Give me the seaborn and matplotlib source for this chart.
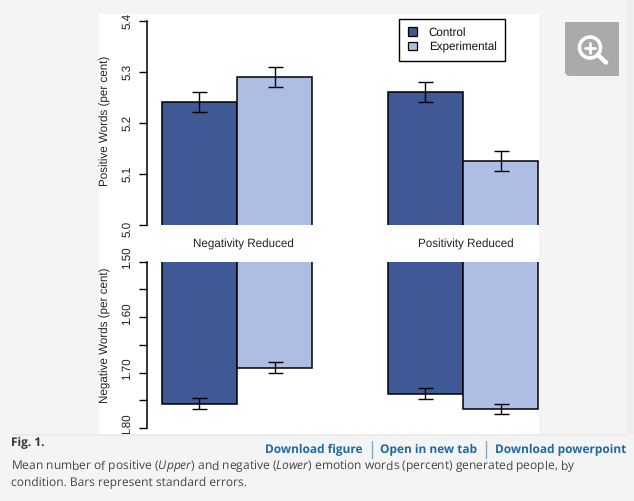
import pandas as pd
import seaborn as sns
import matplotlib.pyplot as plt
from matplotlib.patches import Rectangle, Circle, Patch, FancyBboxPatch
from matplotlib.transforms import ScaledTranslation

W, H = 634, 501

groups = ["Negativity Reduced", "Positivity Reduced"]
conditions = ["Control", "Experimental"]
pos_control = [5.241, 5.261]
pos_experimental = [5.290, 5.125]
pos_se = [0.020, 0.020]
neg_control = [1.756, 1.738]
neg_experimental = [1.691, 1.766]
neg_se = [0.0095, 0.0095]
pos_ticks = [5.0, 5.1, 5.2, 5.3, 5.4]
neg_ticks = [1.50, 1.60, 1.70, 1.80]
neg_minor = [1.55, 1.65, 1.75]
colors = ["#3f5896", "#aebde4"]

sns.set_theme(style="ticks")
plt.rcParams["font.family"] = ["Liberation Sans", "DejaVu Sans"]
plt.rcParams["mathtext.fontset"] = "custom"
plt.rcParams["mathtext.it"] = "Open Sans:italic"
plt.rcParams["mathtext.rm"] = "Open Sans"
plt.rcParams["text.hinting"] = "no_hinting"

fig = plt.figure(figsize=(W / 100, H / 100), dpi=100, facecolor="#f4f4f4")


def pixel_axes(left, top, right, bottom):
    return fig.add_axes([left / W, 1 - bottom / H, (right - left) / W, (bottom - top) / H])


# page behind the figure, in pixels
page = fig.add_axes([0, 0, 1, 1], zorder=0)
page.set_xlim(0, W)
page.set_ylim(H, 0)
page.axis("off")
page.add_patch(Rectangle((627, 0), 7, 434, color="#efefef", lw=0))
page.add_patch(Rectangle((11, 434), 616, 2, color="#ececec", lw=0))
panel = Rectangle((99, 14), 440, 420, color="white", lw=0)
page.add_patch(panel)

# zoom button
page.add_patch(FancyBboxPatch((565, 22), 54, 54, boxstyle="round,pad=0,rounding_size=5",
                              fc="#aaaaaa", ec="none"))
page.add_patch(Rectangle((565, 22), 54, 40, color="#aaaaaa", lw=0))
page.add_patch(Rectangle((590, 22), 29, 54, color="#aaaaaa", lw=0))
page.add_patch(Circle((590, 47.5), 10.5, fc="none", ec="white", lw=2.6))
page.plot([598, 606], [55, 62.5], color="white", lw=3.2, solid_capstyle="round")
page.plot([585, 595], [47.5, 47.5], color="white", lw=2)
page.plot([590, 590], [42.5, 52.5], color="white", lw=2)


def draw_panel(ax, control, experimental, se, ylim):
    df = pd.DataFrame({
        "group": groups * 2,
        "condition": [conditions[0]] * 2 + [conditions[1]] * 2,
        "value": control + experimental,
    })
    sns.barplot(data=df, x="group", y="value", hue="condition", order=groups,
                hue_order=conditions, palette=colors, saturation=1, width=0.664, gap=0,
                edgecolor="black", linewidth=1.1, legend=False, ax=ax)
    ax.set_xlim((147 - 237) / 226, (539 - 237) / 226)
    ax.set_ylim(*ylim)
    # one error bar per bar, same order as seaborn's containers
    for cont, errs in zip(ax.containers, [se, se]):
        for bar, err in zip(cont, errs):
            x = bar.get_x() + bar.get_width() / 2
            ax.errorbar(x, bar.get_height(), yerr=err, color="black", lw=1.0,
                        capsize=5.4, capthick=1.0, clip_on=False, zorder=5)
    ax.patch.set_alpha(0)
    ax.set_xlabel("")
    ax.set_xticks([])
    sns.despine(ax=ax, bottom=True)
    ax.spines["left"].set_linewidth(1.1)
    ax.spines["left"].set_color("black")
    ax.tick_params(axis="y", which="both", length=5.8, width=1.0, color="black", pad=4.5,
                   labelsize=8.4, labelcolor="#222222")


def nudge(label, px):
    # R keeps rotated labels off each other, so some sit off their tick
    label.set_transform(label.get_transform() + ScaledTranslation(0, px / 100, fig.dpi_scale_trans))


top_ax = pixel_axes(147, 21, 539, 225)
draw_panel(top_ax, pos_control, pos_experimental, pos_se, (5.0, 5.4))
top_ax.set_yticks(pos_ticks)
top_ax.set_yticklabels([f"{t:.1f}" for t in pos_ticks], rotation=90, va="center")
top_ax.set_ylabel("")
nudge(top_ax.get_yticklabels()[0], -4)

bot_ax = pixel_axes(147, 261.5, 539, 428)
draw_panel(bot_ax, neg_control, neg_experimental, neg_se, (1.80, 1.50))
bot_ax.set_yticks(neg_ticks)
bot_ax.set_yticks(neg_minor, minor=True)
bot_ax.set_yticklabels([f"{t:.2f}" for t in neg_ticks], rotation=90, va="center")
bot_ax.set_ylabel("")
for lab in bot_ax.get_yticklabels():
    nudge(lab, 3.5)

# tick labels get cut by the white panel edge
for ax in (top_ax, bot_ax):
    for lab in ax.get_yticklabels():
        lab.set_clip_on(True)
        lab.set_clip_box(panel.get_window_extent())

page.text(105.5, 120.5, "Positive Words (per cent)", rotation=90, ha="center", va="center",
          fontsize=8.4, color="#222222")
page.text(105.5, 335.5, "Negative Words (per cent)", rotation=90, ha="center", va="center",
          fontsize=8.4, color="#222222")
page.text(243, 244, groups[0], ha="center", va="center", fontsize=8.4, color="#222222")
page.text(466, 244, groups[1], ha="center", va="center", fontsize=8.4, color="#222222")

handles = [Patch(facecolor=c, edgecolor="black", linewidth=0.9) for c in colors]
leg = top_ax.legend(handles, conditions, loc="upper left",
                    bbox_to_anchor=((399 - 147) / 392, 1 + (21 - 18.5) / 204),
                    fontsize=8.4, frameon=True, fancybox=False, framealpha=1, edgecolor="black",
                    handlelength=0.8, handleheight=0.8, handletextpad=1.0, labelspacing=0.25,
                    borderpad=0.75, borderaxespad=0, labelcolor="#111111")
leg.get_frame().set_linewidth(1.0)
leg.set_zorder(10)

# caption block
sans = ["Open Sans", "DejaVu Sans"]
page.text(11, 443, "Fig. 1.", family=sans, fontsize=8.6, fontweight="bold", color="#333333",
          ha="left", va="center")
link = "#1f6a9c"
page.text(265, 449.5, "Download figure", family=sans, fontsize=8.6, fontweight="bold", color=link,
          ha="left", va="center")
page.text(380, 449.5, "Open in new tab", family=sans, fontsize=8.6, fontweight="bold", color=link,
          ha="left", va="center")
page.text(495, 449.5, "Download powerpoint", family=sans, fontsize=8.6, fontweight="bold", color=link,
          ha="left", va="center")
page.plot([372, 372], [441, 458], color="#8aa8bf", lw=1)
page.plot([486, 486], [441, 458], color="#8aa8bf", lw=1)
page.text(11, 467, r"Mean number of positive ($\mathit{Upper}$) and negative ($\mathit{Lower}$) "
                   "emotion words (percent) generated people, by",
          family=sans, fontsize=8.65, color="#444444", ha="left", va="center")
page.text(11, 483, "condition. Bars represent standard errors.",
          family=sans, fontsize=8.65, color="#444444", ha="left", va="center")

fig.savefig("out.png", dpi=100, facecolor=fig.get_facecolor())
